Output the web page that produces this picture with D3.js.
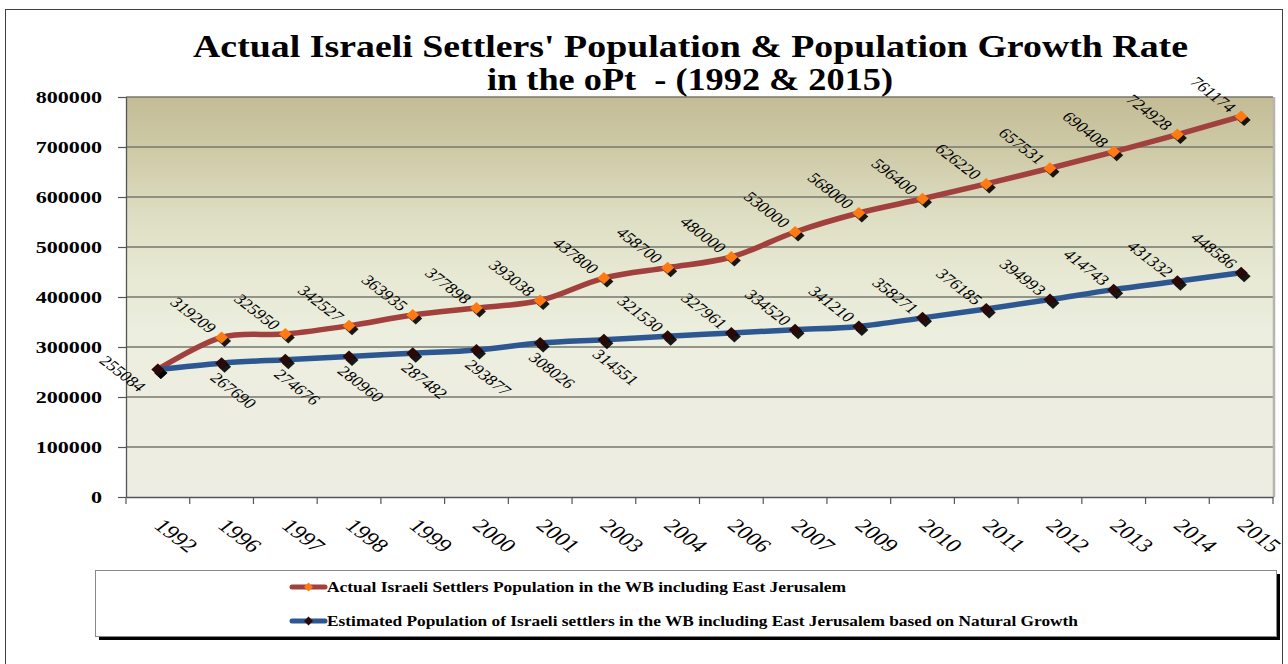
<!DOCTYPE html>
<html><head><meta charset="utf-8">
<script src="https://cdn.jsdelivr.net/npm/d3@7"></script>
<style>body{margin:0;background:#fff}svg{display:block}</style>
</head><body>
<svg id="c" width="1288" height="664"></svg>
<script>
// ---- data ----
const years = ["1992","1996","1997","1998","1999","2000","2001","2003","2004","2006","2007","2009","2010","2011","2012","2013","2014","2015"];
const actual = [255084,319209,325950,342527,363935,377898,393038,437800,458700,480000,530000,568000,596400,626220,657531,690408,724928,761174];
const estimated = [255084,267690,274676,280960,287482,293877,308026,314551,321530,327961,334520,341210,358271,376185,394993,414743,431332,448586];
const yTicks = [0,100000,200000,300000,400000,500000,600000,700000,800000];
const titleLines = ["Actual Israeli Settlers' Population & Population Growth Rate","in the oPt  - (1992 & 2015)"];
const seriesNames = ["Actual Israeli Settlers Population in the WB including East Jerusalem",
  "Estimated Population of Israeli settlers in the WB including East Jerusalem based on Natural Growth"];
const estimatedLabelsBelow = ["1996","1997","1998","1999","2000","2001","2003"];
const estimatedLabelsHidden = ["1992"];
const actualLabelsLeft = ["1992"];

// ---- layout / style ----
const SX = 1.3;
const FONT = "'Liberation Serif','Times New Roman',serif";
const P = {l:126, r:1273, t:97, b:497};
const svg = d3.select("#c");

const x = d3.scaleBand().domain(years).range([P.l, P.r]).padding(0);
const cx = d => x(d) + x.bandwidth()/2;
const y = d3.scaleLinear().domain([0, 800000]).range([P.b, P.t]);

// outer frame
svg.append("rect").attr("x",5.5).attr("y",9.5).attr("width",1277).attr("height",720)
  .attr("fill","#fff").attr("stroke","#404040").attr("stroke-width",1);

// gradient
const defs = svg.append("defs");
const grad = defs.append("linearGradient").attr("id","bg").attr("x1",0).attr("y1",0).attr("x2",0).attr("y2",1);
[[0,"#C3BC95"],[0.15,"#D0CCAA"],[0.3,"#DEDEC3"],[0.45,"#E7E9D4"],[0.6,"#ECEEDF"],[1,"#EEEDE3"]]
  .forEach(s => grad.append("stop").attr("offset",s[0]).attr("stop-color",s[1]));

svg.append("rect").attr("x",P.l).attr("y",P.t).attr("width",P.r-P.l).attr("height",P.b-P.t).attr("fill","url(#bg)");

// gridlines
svg.append("g").selectAll("line").data(yTicks.filter(d=>d>0)).join("line")
  .attr("x1",P.l).attr("x2",P.r).attr("y1",d=>y(d)).attr("y2",d=>y(d))
  .attr("stroke","#77776c").attr("stroke-width",1.3);
// right border of plot
svg.append("line").attr("x1",P.r+1).attr("x2",P.r+1).attr("y1",P.t).attr("y2",P.b)
  .attr("stroke","#b5b5ad").attr("stroke-width",2.5);

// y axis
const yAxis = svg.append("g").attr("transform",`translate(${P.l},0)`)
  .call(d3.axisLeft(y).tickValues(yTicks).tickSize(8).tickSizeOuter(0).tickFormat(d3.format("d")));
yAxis.attr("font-family",FONT);
yAxis.select(".domain").attr("stroke","#555").attr("stroke-width",1.3);
yAxis.selectAll(".tick line").attr("stroke","#555").attr("stroke-width",1.2);
yAxis.selectAll(".tick text").attr("x",null).attr("dy","0.34em")
  .attr("transform",`translate(-24,0) scale(${SX},1)`)
  .attr("font-size",17).attr("font-weight","bold").attr("fill","#000");

// x axis
const xAxis = svg.append("g").attr("transform",`translate(0,${P.b})`)
  .call(d3.axisBottom(x).tickSize(0).tickSizeOuter(0).tickFormat(""));
xAxis.select(".domain").attr("stroke","#555").attr("stroke-width",1.3);
xAxis.selectAll(".tick").remove();
const bounds = years.map(d => x(d)).concat([x.range()[1]]);
svg.append("g").selectAll("line").data(bounds).join("line")
  .attr("x1",d=>d).attr("x2",d=>d).attr("y1",P.b).attr("y2",P.b+7)
  .attr("stroke","#555").attr("stroke-width",1.2);
svg.append("g").selectAll("text").data(years).join("text")
  .attr("transform",d=>`translate(${cx(d)+1},522) scale(${SX},1) rotate(45)`)
  .attr("dy","0.35em").attr("text-anchor","start")
  .attr("font-family",FONT).attr("font-size",19).attr("fill","#000").text(d=>d);

// lines
const rows = years.map((yr,i)=>({year:yr, a:actual[i], e:estimated[i]}));
const lineA = d3.line().x(d=>cx(d.year)).y(d=>y(d.a)).curve(d3.curveCardinal.tension(0));
const lineE = d3.line().x(d=>cx(d.year)).y(d=>y(d.e)).curve(d3.curveCardinal.tension(0));
const diamond = (w,h) => `M0,${-h}L${w},0L0,${h}L${-w},0Z`;

function drawSeries(lineGen, key, lineColor, markerColor){
  svg.append("path").datum(rows).attr("d",lineGen).attr("fill","none")
    .attr("stroke",lineColor).attr("stroke-width",5.5).attr("stroke-linejoin","round");
  const g = svg.append("g");
  g.selectAll("path.sh").data(rows).join("path").attr("class","sh")
    .attr("d",diamond(6.5,6)).attr("transform",d=>`translate(${cx(d.year)+3},${y(d[key])+3.5})`)
    .attr("fill","#000").attr("opacity",0.9);
  g.selectAll("path.mk").data(rows).join("path").attr("class","mk")
    .attr("d",diamond(6.5,6)).attr("transform",d=>`translate(${cx(d.year)},${y(d[key])})`)
    .attr("fill",markerColor);
}
drawSeries(lineA,"a","#A1403D","#FF7A10");
drawSeries(lineE,"e","#2C5791","#2A0A08");

// data labels
const lab = svg.append("g").attr("font-family",FONT).attr("font-size",14.5).attr("fill","#000");
rows.forEach(d=>{
  const px = cx(d.year), py = y(d.a);
  if (actualLabelsLeft.includes(d.year)) {
    lab.append("text").attr("transform",`translate(${px-35},${py+4}) scale(${SX},1) rotate(45)`)
      .attr("dy","0.35em").attr("text-anchor","middle").text(d.a);
  } else {
    lab.append("text").attr("transform",`translate(${px-8},${py-7}) scale(${SX},1) rotate(45)`)
      .attr("dy","0.35em").attr("text-anchor","end").text(d.a);
  }
});
rows.forEach(d=>{
  if (estimatedLabelsHidden.includes(d.year)) return;
  const px = cx(d.year), py = y(d.e);
  if (estimatedLabelsBelow.includes(d.year)) {
    lab.append("text").attr("transform",`translate(${px-8},${py+12}) scale(${SX},1) rotate(45)`)
      .attr("dy","0.35em").attr("text-anchor","start").text(d.e);
  } else {
    lab.append("text").attr("transform",`translate(${px-7},${py-7}) scale(${SX},1) rotate(45)`)
      .attr("dy","0.35em").attr("text-anchor","end").text(d.e);
  }
});

// title
const titleSpecs = [{x:193, base:57, w:995},{x:487, base:90, w:406}];
titleLines.forEach((t,i)=>{
  svg.append("text").attr("x",titleSpecs[i].x).attr("y",titleSpecs[i].base)
    .attr("font-family",FONT).attr("font-weight","bold").attr("font-size",32)
    .attr("textLength",titleSpecs[i].w).attr("lengthAdjust","spacingAndGlyphs")
    .style("white-space","pre").attr("fill","#000").text(t);
});

// legend
svg.append("rect").attr("x",99).attr("y",574).attr("width",1181).attr("height",66).attr("fill","#000");
svg.append("rect").attr("x",95.5).attr("y",570.5).attr("width",1181).attr("height",66)
  .attr("fill","#fff").attr("stroke","#8a8a8a").attr("stroke-width",1);
const legendSpecs = [{y:587, w:519, line:"#A1403D", mk:"#FF7A10"},{y:621, w:751, line:"#2C5791", mk:"#2A0A08"}];
seriesNames.forEach((n,i)=>{
  const s = legendSpecs[i];
  svg.append("line").attr("x1",292).attr("x2",325).attr("y1",s.y).attr("y2",s.y)
    .attr("stroke",s.line).attr("stroke-width",5).attr("stroke-linecap","round");
  svg.append("path").attr("d",diamond(4.5,4.5)).attr("transform",`translate(308.5,${s.y})`).attr("fill",s.mk);
  svg.append("text").attr("x",327).attr("y",s.y+5).attr("font-family",FONT).attr("font-weight","bold")
    .attr("font-size",15.5).attr("textLength",s.w).attr("lengthAdjust","spacingAndGlyphs")
    .attr("fill","#000").text(n);
});
</script>
</body></html>
